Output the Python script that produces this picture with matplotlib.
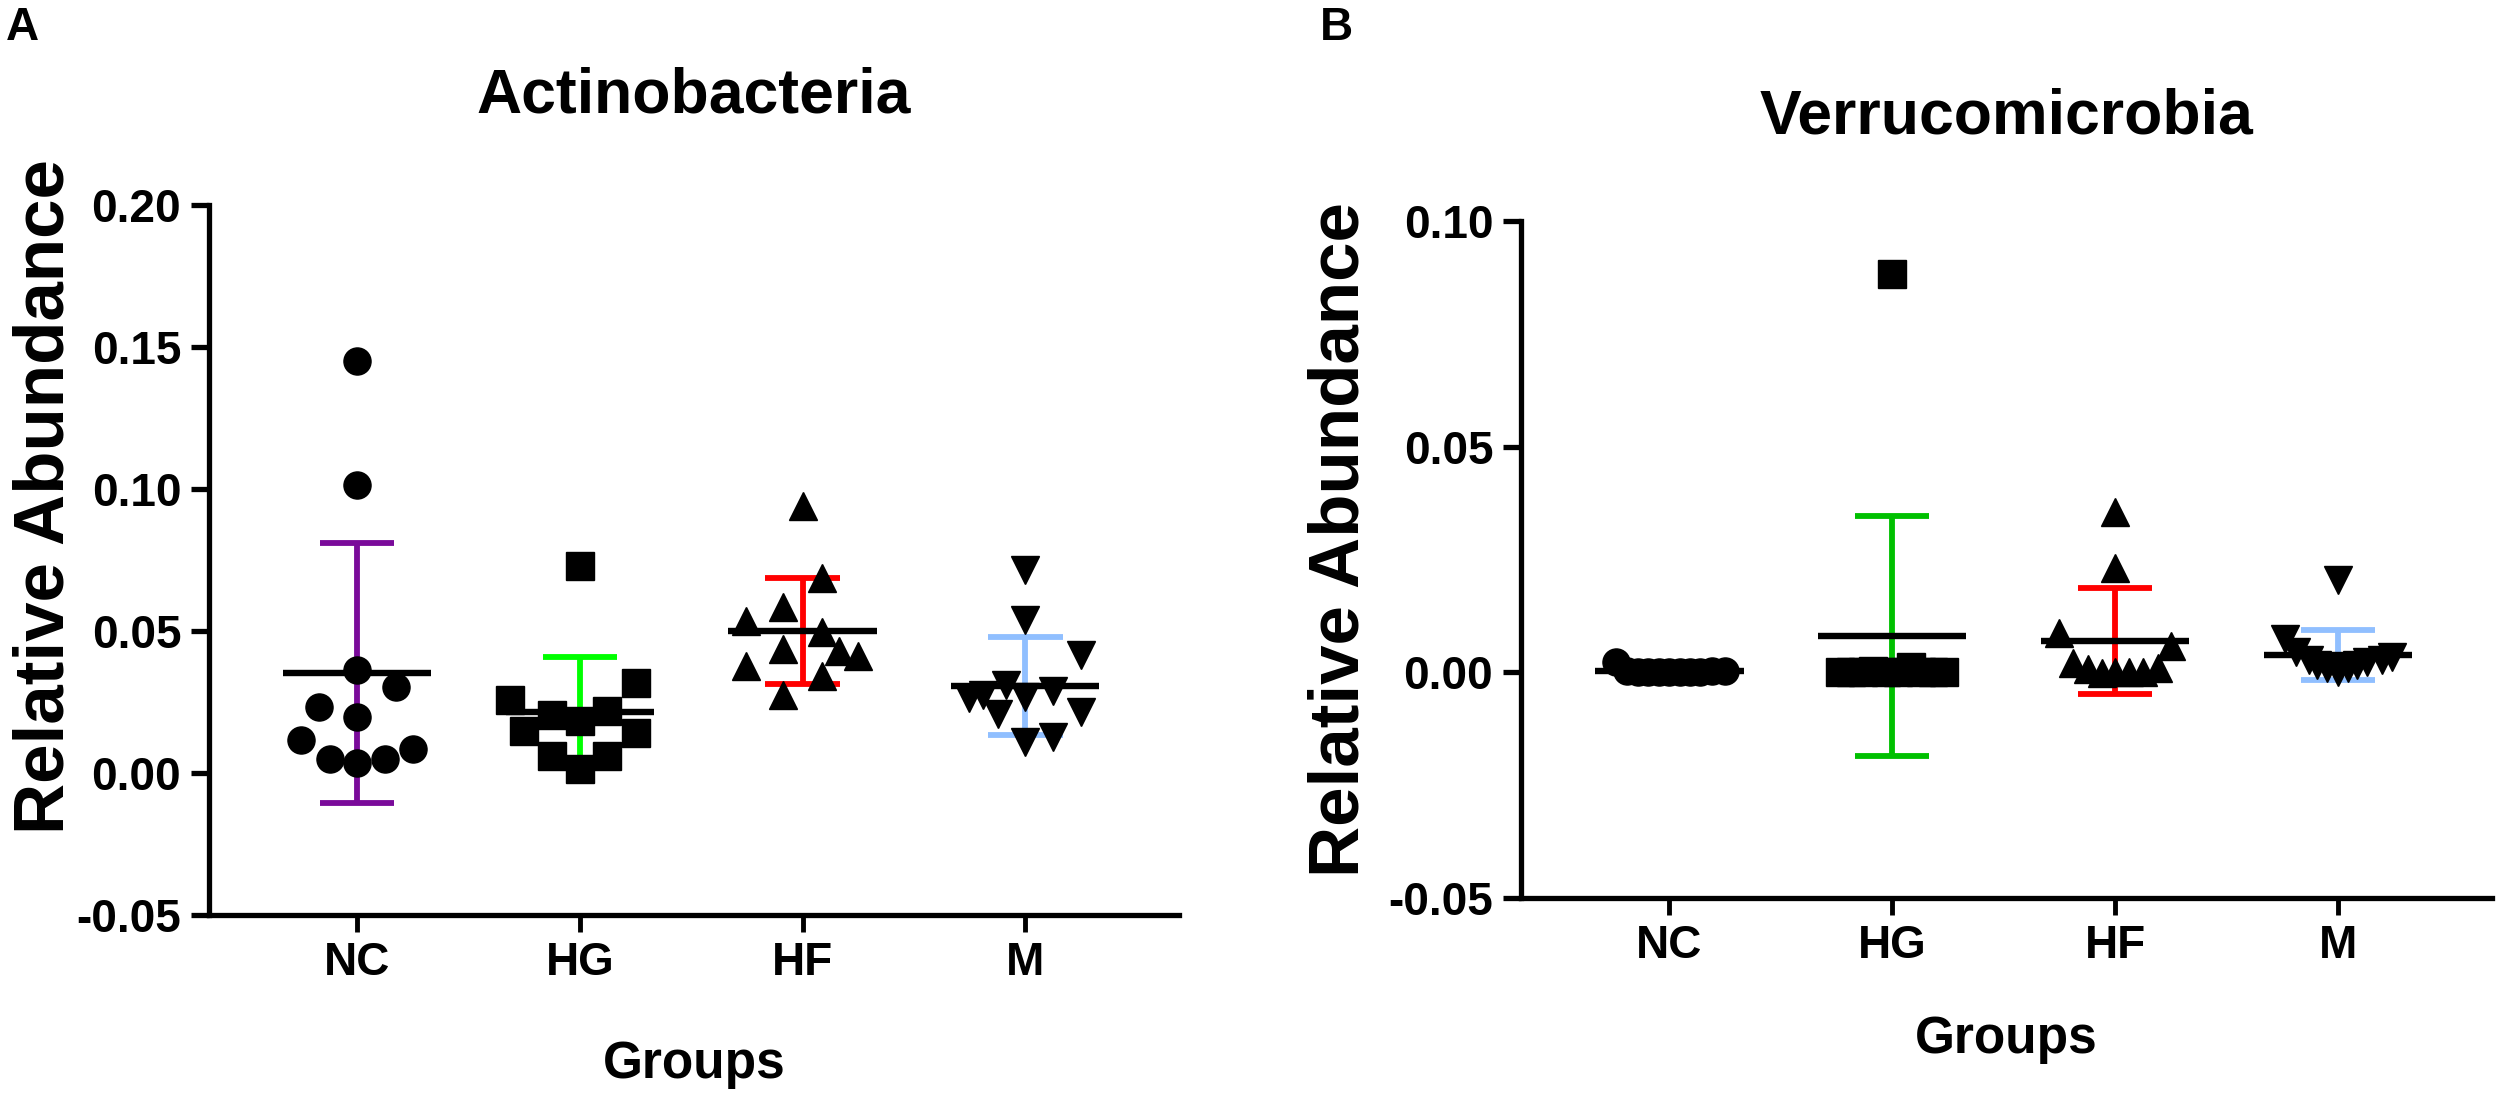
import numpy as np
from matplotlib import pyplot as plt

plt.rcParams['font.family'] = ['Liberation Sans', 'DejaVu Sans']
plt.rcParams['font.weight'] = 'bold'

groups = ["NC", "HG", "HF", "M"]

# A: Actinobacteria, values
nc_a = [0.1452, 0.1014, 0.0363, 0.0304, 0.0234, 0.0198, 0.0116, 0.0083, 0.0048, 0.0036, 0.0048]
hg_a = [0.0730, 0.0316, 0.0257, 0.0204, 0.0219, 0.0183, 0.0149, 0.0140, 0.0060, 0.0060, 0.0013]
hf_a = [0.0940, 0.0686, 0.0586, 0.0535, 0.0496, 0.0435, 0.0431, 0.0412, 0.0378, 0.0342, 0.0275]
m_a = [0.0715, 0.0539, 0.0415, 0.0310, 0.0290, 0.0269, 0.0263, 0.0273, 0.0208, 0.0216, 0.0128, 0.0110]
mean_a = [0.0353, 0.0214, 0.0501, 0.0307]
sd_a = [0.0458, 0.0194, 0.0186, 0.0173]

# B: Verrucomicrobia
nc_b = [0.0024, 0.0002, 0.0001, 0.0000, 0.0000, 0.0000, 0.0000, 0.0001, 0.0001, 0.0002, 0.0004]
hg_b = [0.0883, 0.0000, 0.0000, 0.0000, 0.0003, 0.0000, 0.0000, 0.0011, 0.0000, 0.0000, 0.0000]
hf_b = [0.0356, 0.0232, 0.0087, 0.0059, 0.0020, 0.0008, -0.0001, 0.0000, 0.0000, 0.0000, 0.0010]
m_b = [0.0205, 0.0074, 0.0035, 0.0046, 0.0027, 0.0016, 0.0009, 0.0001, 0.0009, 0.0016, 0.0024, 0.0027]
mean_b = [0.0003, 0.0080, 0.0069, 0.0038]
sd_b = [0.0007, 0.0266, 0.0118, 0.0055]

# scatter offsets (beeswarm spread, in group widths)
nc_a_dx = [0, 0, 0, 0.176, -0.173, 0, -0.25, 0.251, -0.123, 0, 0.127]
hg_a_dx = [0, 0.25, -0.314, -0.124, 0.124, 0, -0.251, 0.25, -0.124, 0.124, 0]
hf_a_dx = [0, 0.087, -0.087, -0.254, 0.087, -0.087, 0.164, 0.251, -0.254, 0.087, -0.087]
m_a_dx = [0, 0, 0.251, -0.087, 0.124, 0, -0.251, -0.19, -0.124, 0.251, 0.124, 0]

nc_b_dx = [-0.24, -0.19, -0.14, -0.095, -0.048, 0, 0.048, 0.095, 0.14, 0.19, 0.25]
hg_b_dx = [0, -0.236, -0.183, -0.131, -0.087, -0.026, 0.026, 0.085, 0.131, 0.183, 0.234]
hf_b_dx = [0, 0, -0.25, 0.25, -0.188, -0.124, -0.061, 0, 0.063, 0.125, 0.19]
m_b_dx = [0, -0.24, 0.24, -0.19, -0.133, -0.096, -0.05, 0, 0.046, 0.084, 0.128, 0.196]

markers = ["o", "s", "^", "v"]
colors_a = ["#7a0a9a", "#00ff00", "#ff0000", "#90bfff"]
colors_b = ["#7a0a9a", "#00c000", "#ff0000", "#90bfff"]


def draw_panel(ax, vals, offs, means, sds, colors, ylim, yticks):
    for i, (v, dx) in enumerate(zip(vals, offs)):
        x = i + 1
        ax.vlines(x, means[i] - sds[i], means[i] + sds[i], color=colors[i], lw=4.2, zorder=2)
        ax.hlines([means[i] - sds[i], means[i] + sds[i]], x - 0.167, x + 0.167,
                  color=colors[i], lw=4.2, zorder=2)
        ax.plot(x + np.array(dx), v, ls="none", marker=markers[i], ms=19.5,
                color="black", zorder=3)
        ax.hlines(means[i], x - 0.333, x + 0.333, color="black", lw=4.6, zorder=4)

    ax.set_xlim(0.335, 4.69)
    ax.set_ylim(*ylim)
    ax.set_yticks(yticks)
    ax.set_yticklabels([f"{t:.2f}" for t in yticks])
    ax.set_xticks(range(1, 5))
    ax.set_xticklabels(groups)
    for s in ["top", "right"]:
        ax.spines[s].set_visible(False)
    for s in ["left", "bottom"]:
        ax.spines[s].set_linewidth(3.8)
    ax.tick_params(axis="y", length=13, width=3.8, pad=7, labelsize=33)
    ax.tick_params(axis="x", length=12, width=3.5, pad=7, labelsize=33)
    ax.set_xlabel("Groups", fontsize=37, fontweight="bold")
    ax.xaxis.label.set_va("baseline")
    ax.set_ylabel("Relative Abundance", fontsize=51, fontweight="bold")


fig = plt.figure(figsize=(25, 11.14), dpi=100)

ax1 = fig.add_axes([0.0836, 0.1786, 0.388, 0.6374])
draw_panel(ax1, [nc_a, hg_a, hf_a, m_a], [nc_a_dx, hg_a_dx, hf_a_dx, m_a_dx],
           mean_a, sd_a, colors_a, (-0.05, 0.20), [-0.05, 0.0, 0.05, 0.10, 0.15, 0.20])
ax1.xaxis.set_label_coords(0.5, -0.23)
ax1.yaxis.set_label_coords(-0.135, 0.59)

ax2 = fig.add_axes([0.6084, 0.1939, 0.3884, 0.6077])
draw_panel(ax2, [nc_b, hg_b, hf_b, m_b], [nc_b_dx, hg_b_dx, hf_b_dx, m_b_dx],
           mean_b, sd_b, colors_b, (-0.05, 0.10), [-0.05, 0.0, 0.05, 0.10])
ax2.xaxis.set_label_coords(0.5, -0.229)
ax2.yaxis.set_label_coords(-0.152, 0.53)

fig.text(0.2776, 0.8986, "Actinobacteria", fontsize=45, fontweight="bold", ha="center", va="baseline")
fig.text(0.8024, 0.8806, "Verrucomicrobia", fontsize=45, fontweight="bold", ha="center", va="baseline")
fig.text(0.0024, 0.964, "A", fontsize=33, fontweight="bold", ha="left", va="baseline")
fig.text(0.528, 0.964, "B", fontsize=33, fontweight="bold", ha="left", va="baseline")

fig.savefig("out.png", dpi=100, facecolor="white")
